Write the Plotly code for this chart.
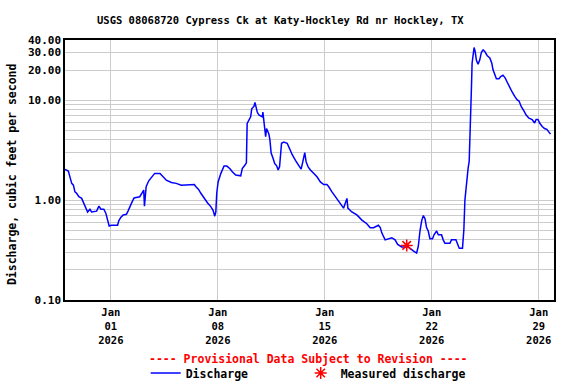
import pandas as pd
import plotly.graph_objects as go

# ---- data (days after 2025-12-29 00:00, discharge in ft3/s) ----
start = pd.Timestamp("2025-12-29")
day_offsets = [
    0.00, 0.22, 0.26, 0.44, 0.55, 0.65, 0.76, 0.91, 1.09, 1.20, 1.30, 1.41, 1.48, 1.63, 1.74,
    2.07, 2.22, 2.35, 2.54, 2.67, 2.78, 2.89, 3.04, 3.44, 3.52, 3.65, 3.81, 4.02, 4.13, 4.24,
    4.39, 4.52, 4.89, 5.00, 5.15, 5.20, 5.31, 5.48, 5.61, 5.78, 5.87, 6.22, 6.41, 6.63, 6.96,
    7.28, 7.61, 8.04, 8.24, 8.46, 8.57, 8.74, 8.89, 9.11, 9.32, 9.54, 9.69, 9.80, 9.87, 9.93,
    10.02, 10.20, 10.30, 10.41, 10.59, 10.78, 10.95, 11.17, 11.50, 11.60, 11.78, 11.87, 11.92,
    12.00, 12.15, 12.22, 12.37, 12.43, 12.58, 12.69, 12.80, 12.91, 12.95, 13.06, 13.13, 13.19,
    13.34, 13.41, 13.49, 13.62, 13.72, 13.85, 13.95, 14.04, 14.11, 14.17, 14.32, 14.54, 14.71,
    14.86, 15.08, 15.30, 15.45, 15.56, 15.69, 15.78, 15.91, 16.06, 16.28, 16.49, 16.71, 16.93,
    17.14, 17.26, 17.47, 17.69, 17.86, 18.02, 18.23, 18.45, 18.51, 18.77, 19.10, 19.43, 19.75,
    19.97, 20.19, 20.51, 20.63, 20.73, 20.95, 21.38, 21.60, 21.77, 22.03, 22.47, 22.69, 22.79,
    23.01, 23.12, 23.23, 23.34, 23.45, 23.56, 23.66, 23.77, 23.88, 24.05, 24.15, 24.32, 24.43,
    24.64, 24.75, 24.86, 25.19, 25.29, 25.58, 25.68, 25.80, 26.01, 26.10, 26.17, 26.23, 26.32,
    26.38, 26.45, 26.49, 26.60, 26.64, 26.71, 26.77, 26.84, 26.92, 27.03, 27.14, 27.25, 27.36,
    27.47, 27.62, 27.80, 27.93, 28.01, 28.12, 28.23, 28.40, 28.51, 28.66, 28.81, 28.94, 29.10,
    29.27, 29.43, 29.58, 29.71, 29.86, 30.03, 30.18, 30.36, 30.57, 30.73, 30.83, 30.95, 31.06,
    31.23, 31.38, 31.53, 31.70, 31.77,
]
discharge = [
    2.03, 1.95, 1.85, 1.47, 1.41, 1.21, 1.17, 1.08, 1.04, 0.96, 0.89, 0.81, 0.76, 0.81, 0.76,
    0.775, 0.87, 0.81, 0.81, 0.74, 0.63, 0.55, 0.56, 0.56, 0.62, 0.67, 0.71, 0.72, 0.78, 0.87,
    0.96, 1.05, 1.08, 1.15, 1.26, 0.87, 1.36, 1.56, 1.65, 1.78, 1.85, 1.85, 1.71, 1.58, 1.50,
    1.47, 1.41, 1.41, 1.43, 1.43, 1.36, 1.28, 1.17, 1.04, 0.94, 0.86, 0.79, 0.69, 0.76, 1.17,
    1.52, 1.85, 2.0, 2.19, 2.19, 2.07, 1.92, 1.78, 1.75, 2.07, 2.24, 2.36, 5.85,
    6.17, 6.8, 8.2, 8.7, 9.5, 7.6, 7.1, 7.0, 6.8, 7.6, 5.6, 4.3, 5.2,
    4.6, 4.0, 2.95, 2.6, 2.33, 2.2, 2.0, 2.15, 3.04, 3.7, 3.8, 3.7, 3.24,
    2.86, 2.5, 2.24, 2.04, 2.41, 2.98, 2.41, 2.15, 2.0, 1.85, 1.71, 1.52, 1.43,
    1.43, 1.36, 1.21, 1.08, 1.0, 0.93, 0.83, 1.04, 0.83, 0.76, 0.71, 0.63, 0.58,
    0.53, 0.53, 0.56, 0.53, 0.47, 0.40, 0.42, 0.40, 0.36, 0.34, 0.34, 0.316, 0.31,
    0.295, 0.345, 0.49, 0.62, 0.70, 0.65, 0.53, 0.49, 0.41, 0.41, 0.45, 0.49, 0.45,
    0.45, 0.40, 0.37, 0.37, 0.40, 0.40, 0.357, 0.33, 0.33, 0.50, 1.0, 1.27, 1.86,
    2.09, 2.44, 4.68, 13.7, 23.4, 30.7, 33.6, 30.7, 25.2, 22.9, 25.2, 30.2, 31.8,
    30.7, 28.0, 26.5, 23.4, 20.1, 17.8, 16.4, 16.4, 17.2, 17.8, 16.6, 15.1, 13.4,
    12.0, 10.9, 10.1, 9.8, 8.6, 7.8, 7.1, 6.6, 6.4, 5.9, 6.4, 6.4, 5.9,
    5.45, 5.2, 5.1, 4.68, 4.57,
]
measured_time = ["2026-01-20 08:40"]
measured_value = [0.352]

x_tick_dates = ["2026-01-01", "2026-01-08", "2026-01-15", "2026-01-22", "2026-01-29"]
x_tick_text = ["Jan<br>01<br>2026", "Jan<br>08<br>2026", "Jan<br>15<br>2026",
               "Jan<br>22<br>2026", "Jan<br>29<br>2026"]
y_grid_vals = [0.1, 0.2, 0.3, 0.4, 0.5, 0.6, 0.7, 0.8, 0.9,
               1, 2, 3, 4, 5, 6, 7, 8, 9, 10, 20, 30, 40]
y_labelled = {0.1: "0.10", 1: "1.00", 10: "10.00", 20: "20.00", 30: "30.00", 40: "40.00"}
y_tick_text = [y_labelled.get(v, "") for v in y_grid_vals]

times = [start + pd.Timedelta(days=d) for d in day_offsets]

FONT = "DejaVu Sans Mono"
LEGEND_FONT = dict(family=FONT, size=11.5, color="black", weight="bold")

fig = go.Figure()
fig.add_trace(go.Scatter(
    x=times, y=discharge, mode="lines", name="Discharge",
    line=dict(color="#0000FF", width=1.5), legend="legend",
))
fig.add_trace(go.Scatter(
    x=pd.to_datetime(measured_time), y=measured_value, mode="markers",
    name="Measured discharge", legend="legend2",
    marker=dict(symbol="asterisk-open", color="#FF0000", size=10,
                line=dict(color="#FF0000", width=1.5)),
))

fig.update_layout(
    width=576, height=384,
    margin=dict(l=65, r=22, t=40, b=84, autoexpand=False),
    paper_bgcolor="white", plot_bgcolor="white",
    font=dict(family=FONT, size=11, color="black", weight="bold"),
    showlegend=True,
    legend=dict(orientation="h", x=0.165, xanchor="left", y=-0.281, yanchor="middle",
                font=LEGEND_FONT, bgcolor="rgba(0,0,0,0)"),
    legend2=dict(orientation="h", x=0.482, xanchor="left", y=-0.281, yanchor="middle",
                 font=LEGEND_FONT, bgcolor="rgba(0,0,0,0)"),
    xaxis=dict(
        range=["2025-12-29", "2026-01-30"],
        tickvals=pd.to_datetime(x_tick_dates), ticktext=x_tick_text,
        showgrid=True, gridcolor="#CCCCCC", gridwidth=1,
        showline=True, linecolor="black", linewidth=1.5, mirror=True,
        ticks="", zeroline=False, automargin=False, ticklabelstandoff=2,
        tickfont=dict(family=FONT, size=10.5, color="black", weight="bold"),
    ),
    yaxis=dict(
        type="log", range=[-1, 1.60206],
        tickvals=y_grid_vals, ticktext=y_tick_text,
        showgrid=True, gridcolor="#CCCCCC", gridwidth=1,
        showline=True, linecolor="black", linewidth=1.5, mirror=True,
        ticks="", zeroline=False, automargin=False,
        tickfont=dict(family=FONT, size=11, color="black", weight="bold"),
    ),
)

fig.add_annotation(
    text="USGS 08068720 Cypress Ck at Katy-Hockley Rd nr Hockley, TX",
    xref="paper", yref="paper", x=0.44, y=1.077, xanchor="center", yanchor="middle",
    showarrow=False, font=dict(family=FONT, size=10.5, color="black", weight="bold"),
)
fig.add_annotation(
    text="Discharge, cubic feet per second",
    xref="paper", yref="paper", x=-0.108, y=0.485, xanchor="center", yanchor="middle",
    textangle=-90, showarrow=False,
    font=dict(family=FONT, size=11.5, color="black", weight="bold"),
)
fig.add_annotation(
    text="---- Provisional Data Subject to Revision ----",
    xref="paper", yref="paper", x=0.497, y=-0.227, xanchor="center", yanchor="middle",
    showarrow=False, font=dict(family=FONT, size=11.5, color="#FF0000", weight="bold"),
)

fig.write_html("out.html", config={"displayModeBar": False},
               post_script="document.body.style.margin='0';")
